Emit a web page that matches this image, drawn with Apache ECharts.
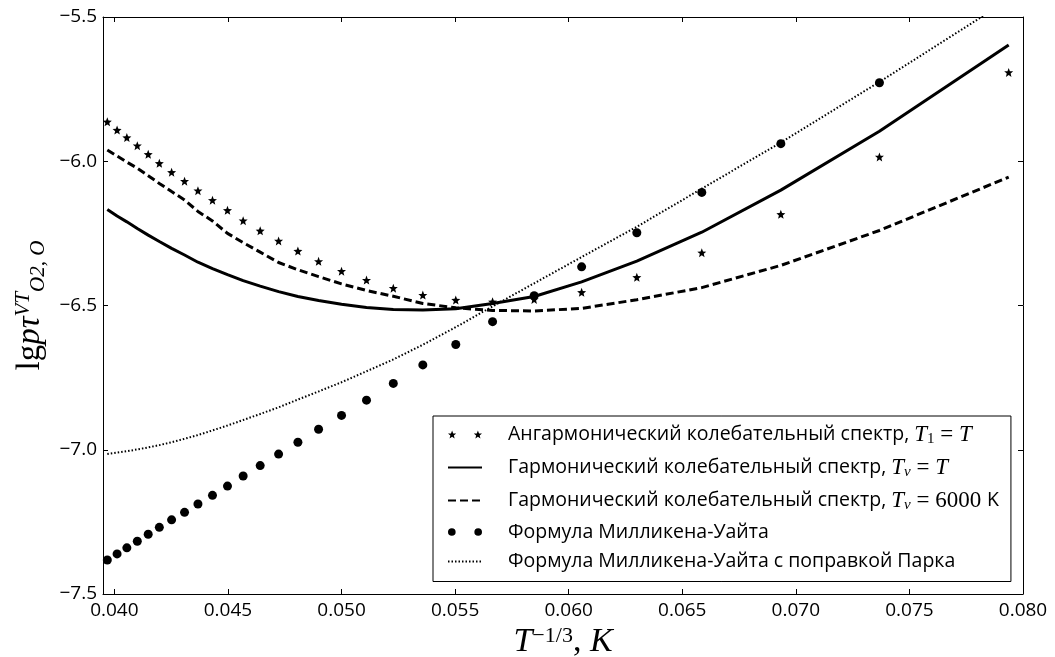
<!DOCTYPE html>
<html>
<head>
<meta charset="utf-8">
<script src="https://cdn.jsdelivr.net/npm/echarts@6/dist/echarts.min.js"></script>
<style>
  html, body { margin: 0; padding: 0; background: #fff; }
  #chart { width: 1055px; height: 657px; }
</style>
</head>
<body>
<div id="chart"></div>
<script>
// T^(-1/3) values
const xVals = [0.03969, 0.04012, 0.04055, 0.04101, 0.04149, 0.04198, 0.04252, 0.04309, 0.04368, 0.04432,
               0.04498, 0.04567, 0.04642, 0.04723, 0.04808, 0.04899, 0.05000, 0.05110, 0.05228, 0.05358,
               0.05503, 0.05665, 0.05848, 0.06057, 0.06300, 0.06586, 0.06934, 0.07368, 0.07937];

const anharmonic = [-5.863, -5.892, -5.918, -5.946, -5.976, -6.007, -6.038, -6.069, -6.102, -6.135,
                    -6.170, -6.206, -6.241, -6.276, -6.311, -6.347, -6.381, -6.412, -6.440, -6.464,
                    -6.481, -6.487, -6.479, -6.454, -6.402, -6.317, -6.184, -5.985, -5.692];

const harmonicTvT = [-6.167, -6.190, -6.210, -6.233, -6.256, -6.278, -6.302, -6.325, -6.350, -6.372,
                     -6.393, -6.414, -6.433, -6.452, -6.469, -6.483, -6.496, -6.507, -6.514, -6.516,
                     -6.511, -6.493, -6.469, -6.418, -6.346, -6.246, -6.100, -5.896, -5.597];

const harmonic6000 = [-5.961, -5.982, -6.003, -6.024, -6.050, -6.077, -6.105, -6.134, -6.174, -6.207,
                      -6.250, -6.282, -6.315, -6.351, -6.376, -6.400, -6.425, -6.448, -6.468, -6.493,
                      -6.508, -6.517, -6.519, -6.510, -6.480, -6.438, -6.361, -6.240, -6.055];

// last Millikan-White point is above the plot, so it is not listed
const millikanWhite = [-7.382, -7.361, -7.340, -7.317, -7.293, -7.269, -7.243, -7.217, -7.188, -7.158,
                       -7.126, -7.091, -7.055, -7.015, -6.974, -6.929, -6.881, -6.828, -6.770, -6.706,
                       -6.635, -6.556, -6.466, -6.366, -6.248, -6.108, -5.939, -5.728];

const millikanPark = [-7.015, -7.010, -7.005, -6.999, -6.992, -6.984, -6.974, -6.962, -6.949, -6.933,
                      -6.916, -6.897, -6.876, -6.853, -6.826, -6.798, -6.766, -6.728, -6.687, -6.636,
                      -6.575, -6.503, -6.423, -6.332, -6.227, -6.095, -5.935, -5.725, -5.440];

const xTicks = [0.040, 0.045, 0.050, 0.055, 0.060, 0.065, 0.070, 0.075, 0.080];

const seriesNames = [
  'Ангармонический колебательный спектр, ',
  'Гармонический колебательный спектр, ',
  'Гармонический колебательный спектр,  ',
  'Формула Милликена-Уайта',
  'Формула Милликена-Уайта с поправкой Парка'
];

const pairs = (ys) => ys.map((y, i) => [xVals[i], y]);

const STAR = 'path://M5 0L6.3 3.3L9.76 3.45L7.05 5.7L7.94 9.05L5 7.2L2.06 9.05L2.95 5.7L0.24 3.45L3.7 3.3Z';
const TWO_STARS = 'path://M5 0L6.3 3.3L9.76 3.45L7.05 5.7L7.94 9.05L5 7.2L2.06 9.05L2.95 5.7L0.24 3.45L3.7 3.3Z' +
  'M35 0L36.3 3.3L39.76 3.45L37.05 5.7L37.94 9.05L35 7.2L32.06 9.05L32.95 5.7L30.24 3.45L33.7 3.3Z';
const TWO_DOTS = 'path://M0 4.5a4.5 4.5 0 1 0 9 0a4.5 4.5 0 1 0 -9 0ZM31 4.5a4.5 4.5 0 1 0 9 0a4.5 4.5 0 1 0 -9 0Z';

const SANS = '"Open Sans", "DejaVu Sans", sans-serif';
const SERIF = '"Liberation Serif", "DejaVu Serif", serif';

const legendRich = {
  sp: { width: 21, fontSize: 19, lineHeight: 24 },
  t: { fontFamily: SANS, fontSize: 19.5, lineHeight: 24, color: '#000' },
  m: { fontFamily: SERIF, fontStyle: 'italic', fontSize: 23, lineHeight: 24, color: '#000' },
  r: { fontFamily: SERIF, fontSize: 23, lineHeight: 24, color: '#000' },
  sub: { fontFamily: SERIF, fontStyle: 'italic', fontSize: 15, lineHeight: 12, verticalAlign: 'bottom', color: '#000' },
  subr: { fontFamily: SERIF, fontSize: 15, lineHeight: 12, verticalAlign: 'bottom', color: '#000' }
};

const legendLabel = (name) => {
  const i = seriesNames.indexOf(name);
  const txt = '{sp| }{t|' + name.trim() + (i <= 2 ? ' ' : '') + '}';
  if (i === 0) return txt + '{m|T}{subr|1}{r| = }{m|T}';
  if (i === 1) return txt + '{m|T}{sub|v}{r| = }{m|T}';
  if (i === 2) return txt + '{m|T}{sub|v}{r| = 6000 }{t|K}';
  return txt;
};

const hiddenSymbol = { color: 'rgba(0,0,0,0)', borderWidth: 0 };

const chart = echarts.init(document.getElementById('chart'), null, { renderer: 'canvas' });

const axisBase = {
  type: 'value',
  axisLine: { show: true, onZero: false, lineStyle: { color: '#000', width: 1 } },
  axisTick: { show: true, inside: true, length: 5, lineStyle: { color: '#000' } },
  splitLine: { show: false }
};

chart.setOption({
  backgroundColor: '#fff',
  animation: false,
  grid: { left: 103, right: 32, top: 17, bottom: 63, outerBoundsMode: 'none', containLabel: false },
  xAxis: [
    Object.assign({}, axisBase, {
      min: 0.0395, max: 0.080, position: 'bottom',
      axisTick: Object.assign({}, axisBase.axisTick, { customValues: xTicks }),
      axisLabel: {
        customValues: xTicks, margin: 7, color: '#000', fontFamily: SANS, fontSize: 19,
        formatter: (v) => v.toFixed(3)
      },
      name: '{i|T}{sup|−1/3}{r|, }{i|K}',
      nameLocation: 'middle', nameGap: 23,
      nameTextStyle: {
        rich: {
          i: { fontFamily: SERIF, fontStyle: 'italic', fontSize: 34, lineHeight: 34, color: '#000' },
          r: { fontFamily: SERIF, fontSize: 34, lineHeight: 34, color: '#000' },
          sup: { fontFamily: SERIF, fontSize: 22, lineHeight: 16, verticalAlign: 'top', color: '#000' }
        }
      }
    }),
    Object.assign({}, axisBase, {
      min: 0.0395, max: 0.080, position: 'top',
      axisTick: Object.assign({}, axisBase.axisTick, { customValues: xTicks }),
      axisLabel: { show: false }
    })
  ],
  yAxis: [
    Object.assign({}, axisBase, {
      min: -7.5, max: -5.5, interval: 0.5, position: 'left',
      axisLabel: {
        margin: 6, color: '#000', fontFamily: SANS, fontSize: 19,
        formatter: (v) => v.toFixed(1).replace('-', '−')
      },
      name: '{r|lg}{i|pτ}{sup|VT}{sub|O2, O}',
      nameLocation: 'middle', nameGap: 50,
      nameTextStyle: {
        rich: {
          i: { fontFamily: SERIF, fontStyle: 'italic', fontSize: 33, lineHeight: 36, color: '#000' },
          r: { fontFamily: SERIF, fontSize: 33, lineHeight: 36, color: '#000' },
          sup: { fontFamily: SERIF, fontStyle: 'italic', fontSize: 21, lineHeight: 18, verticalAlign: 'top', color: '#000' },
          sub: { fontFamily: SERIF, fontStyle: 'italic', fontSize: 21, lineHeight: 16, verticalAlign: 'bottom', color: '#000' }
        }
      }
    }),
    Object.assign({}, axisBase, {
      min: -7.5, max: -5.5, interval: 0.5, position: 'right',
      axisLabel: { show: false }
    })
  ],
  legend: {
    orient: 'vertical',
    left: 433, top: 416,
    padding: [7, 12, 10, 14],
    itemGap: 9.5,
    itemWidth: 34, itemHeight: 8,
    borderColor: '#000', borderWidth: 1, borderRadius: 0,
    backgroundColor: '#fff',
    selectedMode: false,
    data: [
      { name: seriesNames[0], icon: TWO_STARS },
      { name: seriesNames[1], itemStyle: hiddenSymbol },
      { name: seriesNames[2], itemStyle: hiddenSymbol },
      { name: seriesNames[3], icon: TWO_DOTS },
      { name: seriesNames[4], itemStyle: hiddenSymbol }
    ],
    formatter: legendLabel,
    textStyle: { rich: legendRich, color: '#000' }
  },
  series: [
    {
      name: seriesNames[0], type: 'scatter', data: pairs(anharmonic),
      symbol: STAR, symbolSize: 9,
      itemStyle: { color: '#000', opacity: 1 }, z: 3
    },
    {
      name: seriesNames[1], type: 'line', data: pairs(harmonicTvT),
      symbol: 'none', lineStyle: { color: '#000', width: 3 }, itemStyle: { color: '#000' }, z: 3
    },
    {
      name: seriesNames[2], type: 'line', data: pairs(harmonic6000),
      symbol: 'none', lineStyle: { color: '#000', width: 3, type: [8, 4] }, itemStyle: { color: '#000' }, z: 3
    },
    {
      name: seriesNames[3], type: 'scatter', data: pairs(millikanWhite),
      symbol: 'circle', symbolSize: 9,
      itemStyle: { color: '#000', opacity: 1 }, z: 3
    },
    {
      name: seriesNames[4], type: 'line', data: pairs(millikanPark),
      symbol: 'none', lineStyle: { color: '#000', width: 2, type: [1.5, 2] }, itemStyle: { color: '#000' }, z: 3
    }
  ]
});
</script>
</body>
</html>
